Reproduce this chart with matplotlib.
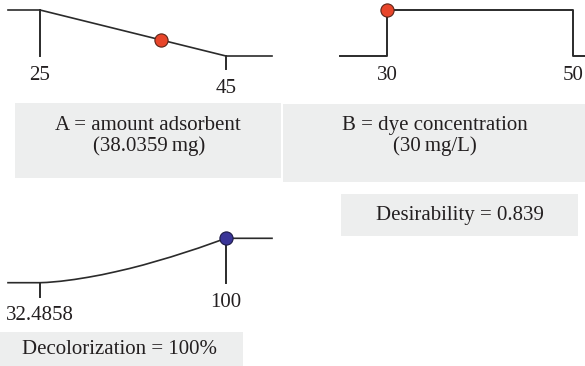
import numpy as np
import matplotlib
matplotlib.use('Agg')
import matplotlib.pyplot as plt
from matplotlib.patches import Rectangle

plt.rcParams['font.family'] = ['Liberation Serif', 'DejaVu Serif']

W, H = 585, 366
TXT = '#231F20'
LINE = '#2b2b2b'
FS = 15

# factor A: amount adsorbent ramp (desirability vs mg)
a_x = [21.56, 25, 45, 49.95]
a_d = [1, 1, 0, 0]
a_opt = 38.0359

# factor B: dye concentration ramp (in range 30..50)
b_x = [24.95, 30, 30, 50, 50, 51.3]
b_d = [0, 0, 1, 1, 0, 0]
b_opt = 30

# response: decolorization
c_x = [20.87, 32.4858, 35, 40, 45, 50, 55, 60, 65, 70, 75, 80, 85, 90, 95, 100, 116.7]
c_d = [0, 0, 0.006, 0.033, 0.073, 0.123, 0.18, 0.248, 0.32, 0.40, 0.49, 0.58,
       0.68, 0.78, 0.89, 1.0, 1.0]
c_opt = 100

desirability = 0.839


def px_axes(x0, x1, y0, y1):
    # pixel box (top-left origin) -> figure axes
    ax = fig.add_axes([x0 / W, 1 - y1 / H, (x1 - x0) / W, (y1 - y0) / H])
    ax.set_axis_off()
    ax.set_ylim(0, 1)
    return ax


def box(x0, x1, y0, y1):
    fig.patches.append(Rectangle((x0 / W, 1 - y1 / H), (x1 - x0) / W, (y1 - y0) / H,
                                 transform=fig.transFigure, facecolor='#EDEEEE',
                                 edgecolor='none', zorder=0))


def ftext(x, y, s):
    fig.text(x / W, 1 - y / H, s, ha='center', va='baseline', fontsize=FS, color=TXT)


fig = plt.figure(figsize=(5.85, 3.66), dpi=100)

# ---- A
axa = px_axes(8, 272, 10, 56)
axa.set_xlim(a_x[0], a_x[-1])
axa.plot(a_x, a_d, color=LINE, lw=1.2, clip_on=False)
axa.plot([25, 25], [1, 0], color=LINE, lw=1.4, clip_on=False)
axa.plot([45, 45], [0, -0.28], color=LINE, lw=1.4, clip_on=False)
axa.plot([a_opt], [np.interp(a_opt, a_x, a_d)], 'o', ms=9.5, mfc='#E8452A',
         mec='#5a2418', mew=0.8, clip_on=False, zorder=5)
axa.text(25, -0.52, '25', ha='center', va='baseline', fontsize=FS, color=TXT)
axa.text(45, -0.80, '45', ha='center', va='baseline', fontsize=FS, color=TXT)

# ---- B
axb = px_axes(340, 585, 10, 56)
axb.set_xlim(b_x[0], b_x[-1])
axb.plot(b_x, b_d, color=LINE, lw=1.4, clip_on=False)
axb.plot([b_opt], [1], 'o', ms=9.5, mfc='#E8452A', mec='#5a2418', mew=0.8,
         clip_on=False, zorder=5)
axb.text(30, -0.52, '30', ha='center', va='baseline', fontsize=FS, color=TXT)
axb.text(50, -0.52, '50', ha='center', va='baseline', fontsize=FS, color=TXT)

# ---- C
axc = px_axes(8, 272, 238.3, 282.7)
axc.set_xlim(c_x[0], c_x[-1])
axc.plot(c_x, c_d, color=LINE, lw=1.2, clip_on=False, solid_joinstyle='round')
axc.plot([100, 100], [1, 0], color=LINE, lw=1.4, clip_on=False)
axc.plot([32.4858, 32.4858], [0, -0.32], color=LINE, lw=1.4, clip_on=False)
axc.plot([c_opt], [1], 'o', ms=9.5, mfc='#3A3598', mec='#1c1a45', mew=0.8,
         clip_on=False, zorder=5)
axc.text(100, -0.54, '100', ha='center', va='baseline', fontsize=FS, color=TXT)
axc.text(32.4858, -0.85, '32.4858', ha='center', va='baseline', fontsize=FS, color=TXT)

# ---- label boxes
box(15, 281, 103, 178)
ftext(148, 130, 'A = amount adsorbent')
ftext(149, 151, '(38.0359\u2009mg)')

box(283, 585, 104, 182)
ftext(435, 130, 'B = dye concentration')
ftext(435, 151, '(30\u2009mg/L)')

box(341, 578, 194, 236)
ftext(460, 220, 'Desirability = %.3f' % desirability)

box(0, 243, 332, 366)
ftext(119, 354, 'Decolorization = 100%')

fig.savefig('out.png', dpi=100)
